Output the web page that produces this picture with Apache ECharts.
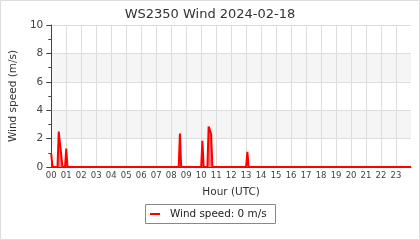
<!DOCTYPE html>
<html>
<head>
<meta charset="utf-8">
<script src="https://cdn.jsdelivr.net/npm/echarts@6/dist/echarts.min.js"></script>
<style>
html,body{margin:0;padding:0;background:#fff;}
#c{width:420px;height:240px;}
</style>
</head>
<body>
<div id="c"></div>
<script>
// Sample times (minutes since 00:00 UTC) and wind speed (m/s)
var minutes = [0, 5, 25, 30, 35, 40, 45, 55, 60, 65, 510, 515, 520, 600, 605, 610, 625, 630, 635, 640, 645, 780, 785, 790, 1440];
var speeds  = [0.9, 0, 0, 2.5, 1.65, 1.65, 0, 0, 1.3, 0, 0, 2.35, 0, 0, 1.85, 0, 0, 2.85, 2.6, 2.3, 0, 0, 1.06, 0, 0];
var hourTicks = ['00','01','02','03','04','05','06','07','08','09','10','11','12','13','14','15','16','17','18','19','20','21','22','23'];
var titleText = 'WS2350 Wind 2024-02-18';
var legendText = 'Wind speed: 0 m/s';

var pts = minutes.map(function(m, i){ return [m / 60, speeds[i]]; });
var FONT = 'DejaVu Sans';

var chart = echarts.init(document.getElementById('c'), null, {renderer:'canvas'});
chart.setOption({
  animation: false,
  backgroundColor: '#fff',
  textStyle: {fontFamily: FONT},
  title: {
    text: titleText, left: 'center', top: 3,
    textStyle: {fontFamily: FONT, fontSize: 13, fontWeight: 'normal', color: '#333'}
  },
  graphic: [{
    type: 'rect', silent: true, z: -1,
    shape: {x: 0.5, y: 0.5, width: 419, height: 239},
    style: {fill: null, stroke: '#dddddd', lineWidth: 1}
  }, {
    type: 'rect', silent: true,
    shape: {x: 145.5, y: 204.5, width: 130, height: 19},
    style: {fill: '#fff', stroke: '#888', lineWidth: 1}
  }],
  legend: {
    data: [{name: legendText, icon: 'rect'}],
    left: 145, top: 204, itemWidth: 10, itemHeight: 2, itemGap: 5,
    textStyle: {fontFamily: FONT, fontSize: 10.4, color: '#222', padding: [0,0,0,5]},
    z: 10
  },
  grid: {left: 50, right: 9, top: 25, bottom: 73, containLabel: false},
  xAxis: {
    type: 'value', min: 0, max: 24, interval: 1,
    name: 'Hour (UTC)', nameLocation: 'middle', nameGap: 20,
    nameTextStyle: {fontFamily: FONT, fontSize: 10.5, color: '#333'},
    axisLine: {show: true, onZero: false, lineStyle: {color: '#444', width: 1}},
    axisTick: {show: false},
    axisLabel: {
      fontFamily: FONT, fontSize: 8.5, color: '#444', margin: 4,
      formatter: function(v){ return v < 24 ? hourTicks[v] : ''; }
    },
    splitLine: {show: true, showMinLine: false, showMaxLine: false, lineStyle: {color: '#dddddd', width: 1}}
  },
  yAxis: {
    type: 'value', min: 0, max: 10, interval: 2,
    name: 'Wind speed (m/s)', nameLocation: 'middle', nameGap: 30, nameRotate: 90,
    nameTextStyle: {fontFamily: FONT, fontSize: 10.5, color: '#333'},
    axisLine: {show: true, lineStyle: {color: '#444', width: 1}},
    axisTick: {show: true, length: 5, lineStyle: {color: '#444'}},
    minorTick: {show: true, splitNumber: 2, length: 3, lineStyle: {color: '#444'}},
    axisLabel: {fontFamily: FONT, fontSize: 10.5, color: '#444', margin: 8},
    splitLine: {show: true, showMinLine: false, lineStyle: {color: '#dddddd', width: 1}},
    splitArea: {show: true, areaStyle: {color: ['#ffffff', '#f5f5f5']}}
  },
  series: [{
    name: legendText, type: 'line', data: pts,
    showSymbol: false, symbol: 'none', z: 5,
    lineStyle: {color: '#ff0000', width: 2},
    itemStyle: {color: '#ff0000'},
    areaStyle: {color: 'rgba(255,0,0,0.75)', origin: 'start'}
  }]
});
</script>
</body>
</html>
